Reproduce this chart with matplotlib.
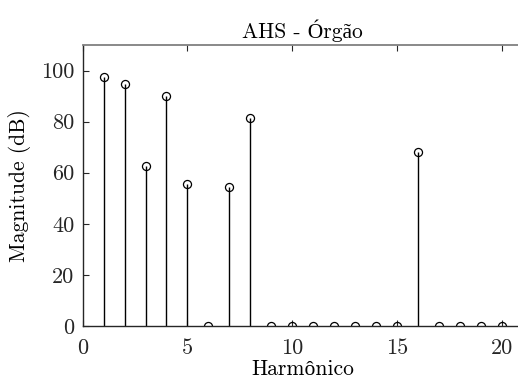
import matplotlib
matplotlib.use("Agg")
import matplotlib.pyplot as plt
import numpy as np

# Harmonic amplitudes of the organ note
harmonics = list(range(1, 21))
magnitude_db = [97.3, 94.7, 62.8, 90.2, 55.7, 0, 54.3, 81.3, 0, 0,
                0, 0, 0, 0, 0, 68.3, 0, 0, 0, 0]
x_ticks = [0, 5, 10, 15, 20]
y_ticks = [0, 20, 40, 60, 80, 100]

plt.rcParams["font.family"] = ["cmr10", "Liberation Serif"]
plt.rcParams["axes.unicode_minus"] = False
plt.rcParams["mathtext.fontset"] = "cm"

fig = plt.figure(figsize=(5.18, 3.85), dpi=100)
ax = fig.add_axes([0.1597, 0.1532, 0.849, 0.7299])

dark = "#262626"
markerline, stemlines, baseline = ax.stem(harmonics, magnitude_db, basefmt=" ")
plt.setp(stemlines, color="black", linewidth=1.0)
plt.setp(markerline, marker="o", markersize=5.8, markerfacecolor="none",
         markeredgecolor="black", markeredgewidth=0.9)

ax.set_xlim(0, 21)
ax.set_ylim(0, 110)
ax.set_xticks(x_ticks)
ax.set_yticks(y_ticks)

for side in ("left", "bottom"):
    ax.spines[side].set_color(dark)
    ax.spines[side].set_linewidth(1.0)
ax.spines["top"].set_color("#808080")
ax.spines["top"].set_linewidth(1.3)
ax.spines["right"].set_color("#808080")

ax.tick_params(direction="in", length=4.5, width=0.8, colors=dark,
               labelsize=16, top=True, right=False)
ax.tick_params(axis="x", top=True, labeltop=False, pad=9)
ax.tick_params(axis="y", pad=6)

ax.set_title("AHS - Órgão", fontsize=15.5, color="black", pad=5)
ax.set_xlabel("Harmônico", fontsize=15.5, labelpad=1)
ax.set_ylabel("Magnitude (dB)", fontsize=15.5, labelpad=7)

fig.savefig("out.png", dpi=100)
